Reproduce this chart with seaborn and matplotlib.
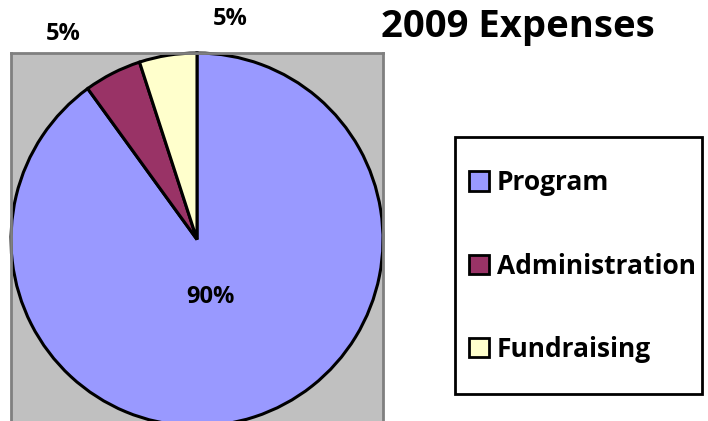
import matplotlib
matplotlib.use('Agg')
import matplotlib.pyplot as plt
from matplotlib.patches import Rectangle
import seaborn as sns

categories = ['Program', 'Administration', 'Fundraising']
shares = [90, 5, 5]
pct_labels = ['90%', '5%', '5%']
slice_colors = ['#9999FF', '#993366', '#FFFFCC']

sns.set_style('white')
plt.rcParams['font.family'] = ['Open Sans', 'DejaVu Sans']
plt.rcParams['font.weight'] = 'bold'
plt.rcParams['text.color'] = 'black'

W, H = 708, 421
fig = plt.figure(figsize=(W / 100, H / 100), dpi=100)
fig.patch.set_facecolor('white')

# plot area (grey box, runs past bottom edge)
ax = fig.add_axes([11 / W, -5 / H, 372 / W, 373 / H])

wedges, _ = ax.pie(shares, colors=sns.color_palette(slice_colors), startangle=90,
                   counterclock=False, radius=1,
                   wedgeprops=dict(edgecolor='black', linewidth=2.2))
ax.set_frame_on(True)
ax.set_facecolor('#C0C0C0')
for s in ax.spines.values():
    s.set_color('#808080')
    s.set_linewidth(2)
ax.set_xlim(-1, 1)
ax.set_ylim(-1, 1)
ax.set_aspect('auto')
ax.set_xticks([])
ax.set_yticks([])

# percentage labels (Excel-style placement)
label_pos = [(0.07, -0.31), (-0.72, 1.10), (0.18, 1.18)]
for (x, y), t in zip(label_pos, pct_labels):
    ax.text(x, y, t, ha='center', va='center', fontsize=17, fontweight='bold',
            color='black', clip_on=False)

fig.text(518 / W, 1 - 27 / H, '2009 Expenses', ha='center', va='center',
         fontsize=27.5, fontweight='bold', color='black')

# legend box
fig.patches.append(Rectangle((455 / W, 1 - 394 / H), 247 / W, 257 / H,
                             transform=fig.transFigure, facecolor='white',
                             edgecolor='black', linewidth=2, zorder=1))
leg = fig.legend(wedges, categories, loc='center left',
                 bbox_to_anchor=(469 / W, 1 - 266 / H),
                 prop=dict(size=19, weight='bold'), frameon=False,
                 borderpad=0, labelspacing=2.13,
                 handlelength=0.75, handleheight=0.75, handletextpad=0.3,
                 borderaxespad=0)
leg.set_zorder(2)
for t in leg.get_texts():
    t.set_color('black')
for h in leg.legend_handles:
    h.set_linewidth(2)

fig.savefig('out.png', dpi=100)
